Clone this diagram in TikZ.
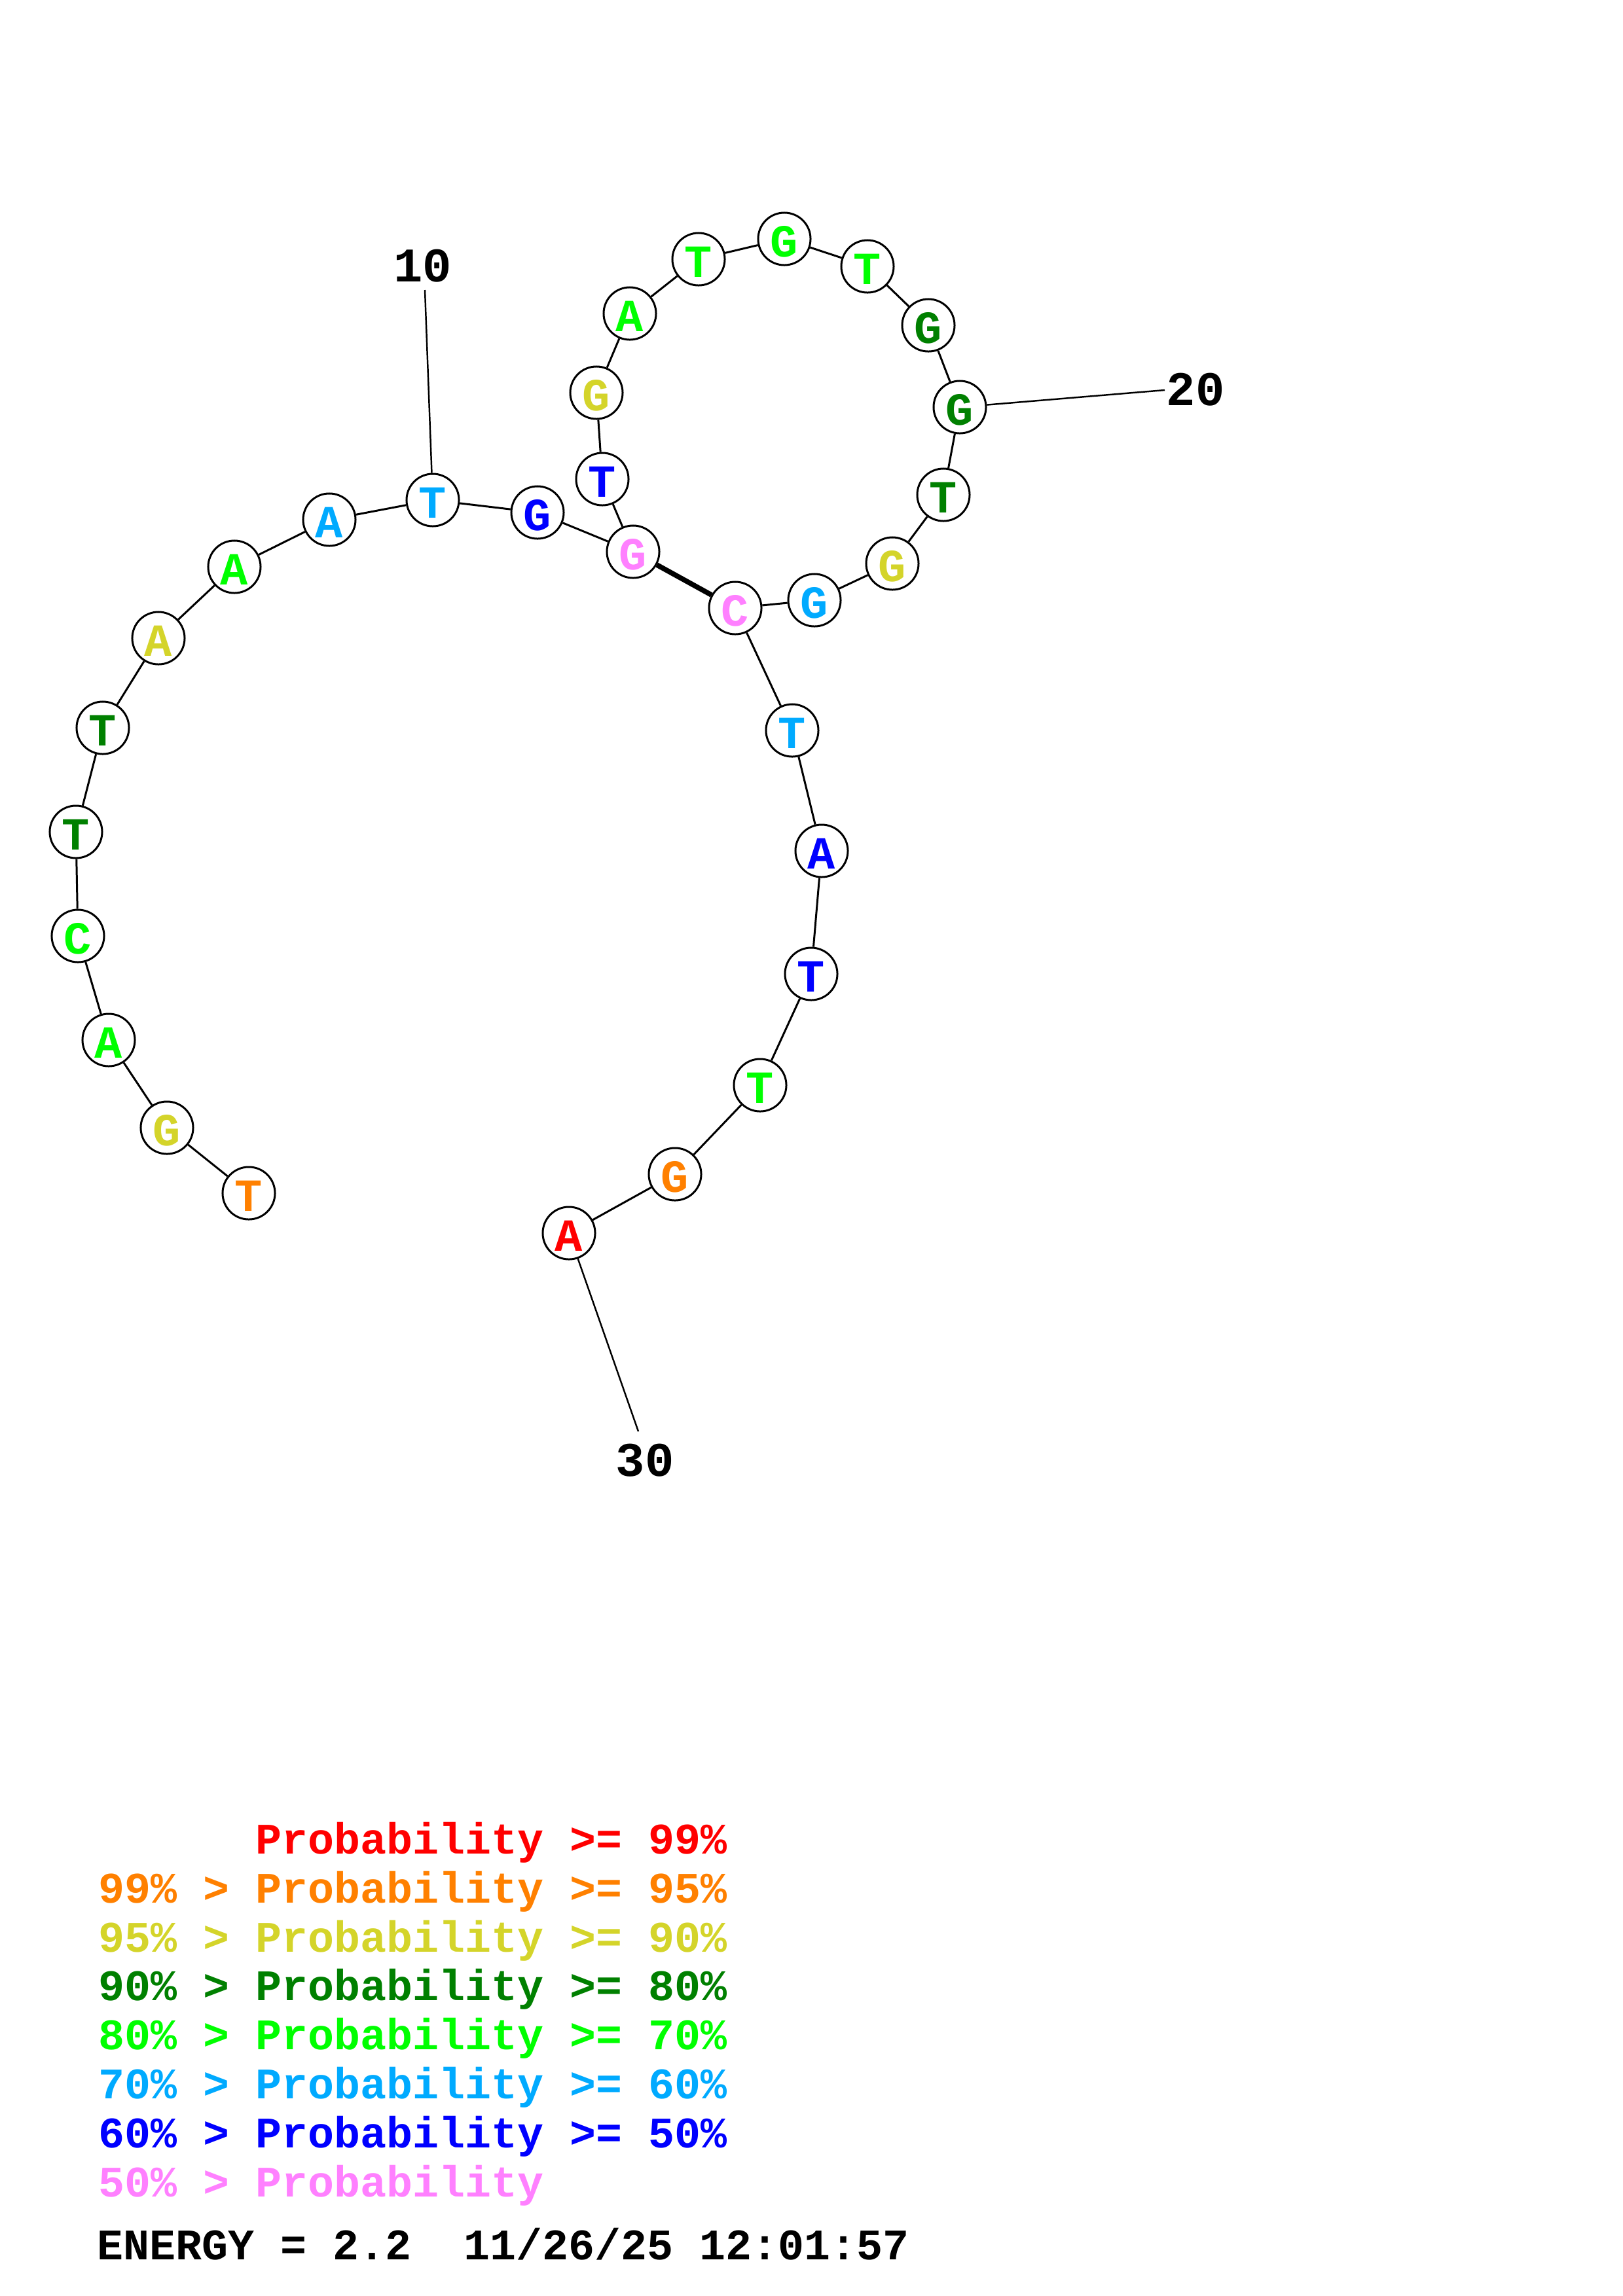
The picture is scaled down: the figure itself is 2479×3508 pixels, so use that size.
\documentclass[tikz,border=0pt]{standalone}
\usepackage{fontspec}
\newfontfamily\monob{Liberation Mono}
\definecolor{cR}{RGB}{255,0,0}
\definecolor{cO}{RGB}{255,128,0}
\definecolor{cY}{RGB}{212,212,42}
\definecolor{cDG}{RGB}{0,128,0}
\definecolor{cG}{RGB}{0,255,0}
\definecolor{cLB}{RGB}{0,170,255}
\definecolor{cB}{RGB}{0,0,255}
\definecolor{cP}{RGB}{255,128,255}
\begin{document}
\begin{tikzpicture}[x=0.01cm,y=-0.01cm,
  base/.style={circle,draw=black,fill=white,line width=0.85pt,minimum size=0.8cm,inner sep=0pt,
    font=\monob\bfseries\fontsize{20}{20}\selectfont,text height=15.5pt,text depth=0pt},
  R/.style={base,text=cR}, O/.style={base,text=cO}, Y/.style={base,text=cY},
  DG/.style={base,text=cDG}, G/.style={base,text=cG}, LB/.style={base,text=cLB},
  B/.style={base,text=cB}, P/.style={base,text=cP},
  bb/.style={line width=0.85pt},
  pairline/.style={line width=2.2pt},
  tick/.style={line width=0.7pt},
  lbl/.style={font=\monob\bfseries\fontsize{21}{21}\selectfont,inner sep=0pt},
  leg/.style={anchor=base west,inner sep=0pt,font=\monob\bfseries\fontsize{18.95}{18.95}\selectfont}]
\useasboundingbox (0,0) rectangle (2479,3508);
% nucleotides
\node[O]  (n1)  at (380,1823) {T};
\node[Y]  (n2)  at (255,1723) {G};
\node[G]  (n3)  at (166,1589) {A};
\node[G]  (n4)  at (119,1430) {C};
\node[DG] (n5)  at (116,1271) {T};
\node[DG] (n6)  at (157,1112) {T};
\node[Y]  (n7)  at (242,975)  {A};
\node[G]  (n8)  at (358,866)  {A};
\node[LB] (n9)  at (503,794)  {A};
\node[LB] (n10) at (661,764)  {T};
\node[B]  (n11) at (821,783)  {G};
\node[P]  (n12) at (967,843)  {G};
\node[B]  (n13) at (920,732)  {T};
\node[Y]  (n14) at (911,600)  {G};
\node[G]  (n15) at (962,479)  {A};
\node[G]  (n16) at (1067,396) {T};
\node[G]  (n17) at (1198,365) {G};
\node[G]  (n18) at (1325,407) {T};
\node[DG] (n19) at (1418,497) {G};
\node[DG] (n20) at (1466,622) {G};
\node[DG] (n21) at (1441,756) {T};
\node[Y]  (n22) at (1363,861) {G};
\node[LB] (n23) at (1244,917) {G};
\node[P]  (n24) at (1123,929) {C};
\node[LB] (n25) at (1210,1116) {T};
\node[B]  (n26) at (1255,1300) {A};
\node[B]  (n27) at (1239,1488) {T};
\node[G]  (n28) at (1161,1658) {T};
\node[O]  (n29) at (1031,1794) {G};
\node[R]  (n30) at (869,1884) {A};
% backbone
\foreach \i [evaluate=\i as \j using int(\i+1)] in {1,...,29}
  \draw[bb] (n\i) -- (n\j);
% base pair
\draw[pairline] (n12) -- (n24);
% position labels
\node[lbl] (l10) at (646,406) {10};
\node[lbl] (l20) at (1826,595) {20};
\node[lbl] (l30) at (985,2231) {30};
\coordinate (t10) at (649,443);
\coordinate (t20) at (1779,596);
\coordinate (t30) at (975,2187);
\draw[tick] (t10) -- (n10);
\draw[tick] (t20) -- (n20);
\draw[tick] (t30) -- (n30);
% legend
\node[leg,text=cR]  (g1) at (150,2832) {\phantom{99\%~>~}Probability >= 99\%};
\node[leg,text=cO]  (g2) at (150,2907) {99\% > Probability >= 95\%};
\node[leg,text=cY]  (g3) at (150,2982) {95\% > Probability >= 90\%};
\node[leg,text=cDG] (g4) at (150,3056) {90\% > Probability >= 80\%};
\node[leg,text=cG]  (g5) at (150,3131) {80\% > Probability >= 70\%};
\node[leg,text=cLB] (g6) at (150,3206) {70\% > Probability >= 60\%};
\node[leg,text=cB]  (g7) at (150,3281) {60\% > Probability >= 50\%};
\node[leg,text=cP]  (g8) at (150,3356) {50\% > Probability};
\node[leg,text=black] (en) at (148,3452) {ENERGY = 2.2~ 11/26/25 12:01:57};
\end{tikzpicture}
\end{document}
